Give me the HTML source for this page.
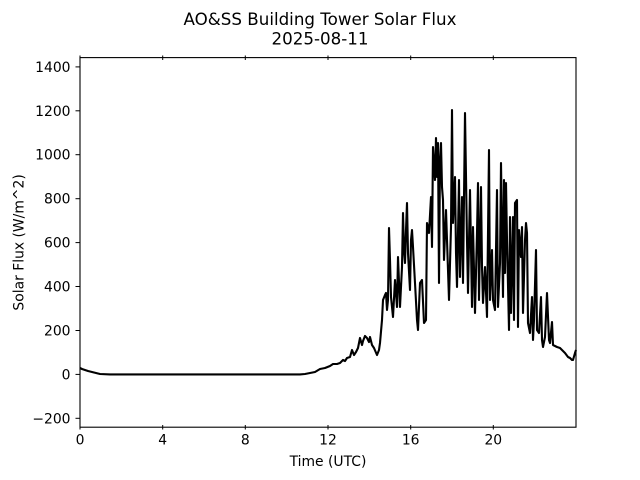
<!DOCTYPE html>
<html>
<head>
<meta charset="utf-8">
<style>
html,body{margin:0;padding:0;background:#fff;}
svg{display:block;}
text{font-family:"DejaVu Sans","Liberation Sans",sans-serif;fill:#000;}
</style>
</head>
<body>
<svg width="640" height="480" viewBox="0 0 640 480" xmlns="http://www.w3.org/2000/svg">
<rect x="0" y="0" width="640" height="480" fill="#fff"/>
<!-- title -->
<text x="320" y="25" font-size="16.7" text-anchor="middle">AO&amp;SS Building Tower Solar Flux</text>
<text x="320" y="44.5" font-size="16.7" text-anchor="middle">2025-08-11</text>

<!-- data -->
<polyline fill="none" stroke="#000" stroke-width="2.1" stroke-linejoin="round" stroke-linecap="butt"
points="80,368 82,369 85,370 88,371 92,372 96,373 100,374 110,374.4 300,374.4 305,374 310,373 315,372 320,369 325,368 330,366 333,364 337,364 340,363 343,360 345,361 347,358 350,357 352,350 354,355 356,352 358,348 360,338 362,345 363,341 365,336 367,338 369,342 370,337 372,345 374,348 377,355 379,350 380,343 382,320 383,300 385,295 386,293 387,310 388,300 389,228 390,260 391,297 393,317 395,280 397,307 398,257 400,307 402,267 403,213 404,250 405,263 406,230 407,203 408,253 410,290 411,240 412,230 413,247 415,283 417,320 418,330 420,283 422,280 424,323 426,320 427,223 429,233 431,197 432,247 433,147 435,180 436,138 437,177 438,143 439,283 440,160 441,143 442,187 443,200 444,260 446,210 447,240 449,300 451,227 452,110 453,223 455,177 456,253 457,287 459,180 460,277 462,197 463,283 465,113 467,240 468,293 470,190 472,307 473,227 475,313 477,233 478,183 479,300 481,187 482,267 483,303 485,267 487,317 489,150 490,300 492,250 493,300 495,310 497,190 498,307 500,263 501,163 503,297 504,180 505,273 506,183 507,240 509,330 510,217 511,313 513,217 514,320 515,203 517,200 518,327 519,230 521,257 522,227 523,313 525,240 526,223 527,233 528,323 530,333 532,297 533,340 534,320 536,250 537,330 539,333 541,297 542,340 543,347 545,337 547,293 549,340 550,343 552,322 553,345 555,346 557,347 560,348 562,350 565,353 568,357 570,358 572,360 573,360 575,353 576,350"/>

<!-- axes frame -->
<rect x="80" y="57.6" width="496" height="369.6" fill="none" stroke="#000" stroke-width="1.1"/>

<!-- y ticks -->
<g stroke="#000" stroke-width="1">
<line x1="75.5" y1="418.3" x2="80" y2="418.3"/>
<line x1="75.5" y1="374.4" x2="80" y2="374.4"/>
<line x1="75.5" y1="330.5" x2="80" y2="330.5"/>
<line x1="75.5" y1="286.5" x2="80" y2="286.5"/>
<line x1="75.5" y1="242.6" x2="80" y2="242.6"/>
<line x1="75.5" y1="198.7" x2="80" y2="198.7"/>
<line x1="75.5" y1="154.7" x2="80" y2="154.7"/>
<line x1="75.5" y1="110.8" x2="80" y2="110.8"/>
<line x1="75.5" y1="66.9" x2="80" y2="66.9"/>
</g>
<g font-size="13.9" text-anchor="end">
<text x="70.5" y="423.3">−200</text>
<text x="70.5" y="379.4">0</text>
<text x="70.5" y="335.5">200</text>
<text x="70.5" y="291.5">400</text>
<text x="70.5" y="247.6">600</text>
<text x="70.5" y="203.7">800</text>
<text x="70.5" y="159.7">1000</text>
<text x="70.5" y="115.8">1200</text>
<text x="70.5" y="71.9">1400</text>
</g>

<!-- x ticks bottom and top -->
<g stroke="#000" stroke-width="1">
<line x1="80" y1="425" x2="80" y2="429.5"/>
<line x1="162.7" y1="425" x2="162.7" y2="429.5"/>
<line x1="245.3" y1="425" x2="245.3" y2="429.5"/>
<line x1="328" y1="425" x2="328" y2="429.5"/>
<line x1="410.7" y1="425" x2="410.7" y2="429.5"/>
<line x1="493.3" y1="425" x2="493.3" y2="429.5"/>
<line x1="80" y1="55.5" x2="80" y2="60"/>
<line x1="162.7" y1="55.5" x2="162.7" y2="60"/>
<line x1="245.3" y1="55.5" x2="245.3" y2="60"/>
<line x1="328" y1="55.5" x2="328" y2="60"/>
<line x1="410.7" y1="55.5" x2="410.7" y2="60"/>
<line x1="493.3" y1="55.5" x2="493.3" y2="60"/>
</g>
<g font-size="13.9" text-anchor="middle">
<text x="80" y="444.5">0</text>
<text x="162.7" y="444.5">4</text>
<text x="245.3" y="444.5">8</text>
<text x="328" y="444.5">12</text>
<text x="410.7" y="444.5">16</text>
<text x="493.3" y="444.5">20</text>
</g>

<!-- axis labels -->
<text x="328" y="466" font-size="13.9" text-anchor="middle">Time (UTC)</text>
<text x="0" y="0" font-size="13.9" text-anchor="middle" transform="translate(23.5,242.4) rotate(-90)">Solar Flux (W/m^2)</text>
</svg>
</body>
</html>
